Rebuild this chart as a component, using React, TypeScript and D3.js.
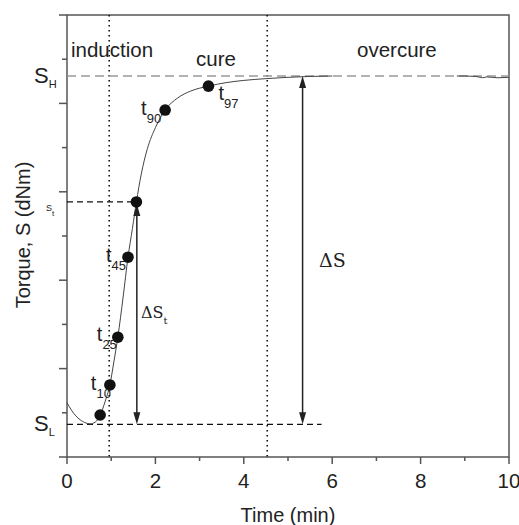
import React from "react";
import * as d3 from "d3";

// ---- data ----
const curveTime = [0, 0.1, 0.2, 0.3, 0.4, 0.52, 0.64, 0.75, 0.86, 0.97, 1.06, 1.15, 1.27, 1.38, 1.48, 1.57, 1.68, 1.82, 2.0, 2.22, 2.5, 2.8, 3.2, 3.6, 4.0, 4.5, 5.0, 5.5, 6.0];
const curveTorque = [1.23, 1.06, 0.93, 0.84, 0.78, 0.75, 0.79, 0.94, 1.25, 1.63, 2.15, 2.71, 3.62, 4.52, 5.17, 5.77, 6.4, 6.98, 7.45, 7.85, 8.12, 8.28, 8.39, 8.47, 8.52, 8.56, 8.59, 8.61, 8.62];
const tailTime = [8.82, 9.0, 9.25, 9.3, 9.4, 9.5, 9.6, 9.75, 10.0];
const tailTorque = [8.62, 8.62, 8.61, 8.6, 8.58, 8.6, 8.59, 8.58, 8.59];

const pointTime = [0.75, 0.97, 1.15, 1.38, 1.57, 2.22, 3.2];
const pointTorque = [0.95, 1.63, 2.71, 4.52, 5.77, 7.85, 8.39];
const pointLabels = ["", "10", "25", "45", "", "90", "97"];

const S_H = 8.62;
const S_L = 0.74;
const S_t = 5.77;
const tStart = 0.955; // end of induction
const tOver = 4.53; // end of cure
const tDeltaSt = 1.58;
const tDeltaS = 5.33;
const sLEnd = 5.76;

const xTicks = [0, 1, 2, 3, 4, 5, 6, 7, 8, 9, 10];
const xTickLabels = ["0", "", "2", "", "4", "", "6", "", "8", "", "10"];
const yTicks = [0, 1, 2, 3, 4, 5, 6, 7, 8, 9, 10];

const W = 519;
const H = 525;
const L = 67, R = 509, T = 15, B = 457;

const x = d3.scaleLinear().domain([0, 10]).range([L, R]);
const y = d3.scaleLinear().domain([0, 10]).range([B, T]);

const sans = "Liberation Sans, Arial, sans-serif";
const serif = "'DejaVu Serif', 'Liberation Serif', serif";

export default function App() {
  const line = d3
    .line<number>()
    .x((_, i) => x(curveTime[i]))
    .y((d) => y(d))
    .curve(d3.curveMonotoneX);
  const tailLine = d3
    .line<number>()
    .x((_, i) => x(tailTime[i]))
    .y((d) => y(d));

  const arrowHead = (cx: number, tipY: number, dir: 1 | -1) => {
    const len = 12, hw = 3.5;
    return `M${cx},${tipY} L${cx - hw},${tipY - dir * len} L${cx + hw},${tipY - dir * len} Z`;
  };

  const labelDx = [0, -19, -21, -22, 0, -24, 10];
  const labelDy = [0, 5, 4, 5, 0, 5, 14];

  return (
    <svg width={W} height={H} style={{ position: "absolute", left: 0, top: 0, background: "#fff" }}>
      {/* frame */}
      <rect x={L} y={T} width={R - L} height={B - T} fill="none" stroke="#555" strokeWidth={1.5} />

      {/* y ticks */}
      {yTicks.map((v) => (
        <line key={"yt" + v} x1={L} x2={L - (v % 2 === 0 ? 8 : 5)} y1={y(v)} y2={y(v)} stroke="#555" strokeWidth={1.5} />
      ))}
      {/* x ticks */}
      {xTicks.map((v, i) => (
        <g key={"xt" + v}>
          <line x1={x(v)} x2={x(v)} y1={B} y2={B + (v % 2 === 0 ? 7 : 4)} stroke="#555" strokeWidth={1.5} />
          {xTickLabels[i] && (
            <text x={x(v)} y={488} textAnchor="middle" style={{ fontFamily: sans }} fontSize={20.5} fill="#222">
              {xTickLabels[i]}
            </text>
          )}
        </g>
      ))}

      {/* axis titles */}
      <text x={288} y={522} textAnchor="middle" style={{ fontFamily: sans }} fontSize={20} fill="#222">
        Time (min)
      </text>
      <text
        transform={`translate(30,235) rotate(-90)`}
        textAnchor="middle"
        style={{ fontFamily: sans }}
        fontSize={20}
        fill="#222"
      >
        Torque, S (dNm)
      </text>

      {/* phase dotted lines */}
      {[tStart, tOver].map((t) => (
        <line key={"v" + t} x1={x(t)} x2={x(t)} y1={T} y2={B} stroke="#111" strokeWidth={1.6} strokeDasharray="1.6,3.4" />
      ))}

      {/* S_H gray dashed */}
      <line x1={L} x2={R} y1={y(S_H)} y2={y(S_H)} stroke="#999" strokeWidth={1.3} strokeDasharray="9,5" />
      {/* S_L dashed */}
      <line x1={L} x2={x(sLEnd)} y1={y(S_L)} y2={y(S_L)} stroke="#111" strokeWidth={1.3} strokeDasharray="6,4" />
      {/* S_t dashed */}
      <line x1={L} x2={x(tDeltaSt)} y1={y(S_t)} y2={y(S_t)} stroke="#111" strokeWidth={1.3} strokeDasharray="6,4" />

      {/* curve */}
      <path d={line(curveTorque) || ""} fill="none" stroke="#444" strokeWidth={1} />
      <path d={tailLine(tailTorque) || ""} fill="none" stroke="#444" strokeWidth={1} />

      {/* Delta S_t arrow */}
      <line x1={x(tDeltaSt)} x2={x(tDeltaSt)} y1={y(S_t) + 4} y2={y(S_L) - 10} stroke="#222" strokeWidth={1.5} />
      <path d={arrowHead(x(tDeltaSt), y(S_L), 1)} fill="#222" />
      <path d={arrowHead(x(tDeltaSt), y(S_t) + 2, -1)} fill="#222" />
      {/* Delta S arrow */}
      <line x1={x(tDeltaS)} x2={x(tDeltaS)} y1={y(S_H) + 10} y2={y(S_L) - 10} stroke="#222" strokeWidth={1.5} />
      <path d={arrowHead(x(tDeltaS), y(S_L), 1)} fill="#222" />
      <path d={arrowHead(x(tDeltaS), y(S_H), -1)} fill="#222" />

      {/* points */}
      {pointTime.map((t, i) => (
        <circle key={"p" + i} cx={x(t)} cy={y(pointTorque[i])} r={5.8} fill="#111" />
      ))}
      {pointTime.map((t, i) =>
        pointLabels[i] ? (
          <text key={"pl" + i} x={x(t) + labelDx[i]} y={y(pointTorque[i]) + labelDy[i]} style={{ fontFamily: sans }} fontSize={20} fill="#222">
            t
            <tspan fontSize={13} dy={8}>
              {pointLabels[i]}
            </tspan>
          </text>
        ) : null
      )}

      {/* phase labels */}
      <text x={71} y={57} style={{ fontFamily: sans }} fontSize={20.5} fill="#222">induction</text>
      <text x={196} y={66} style={{ fontFamily: sans }} fontSize={20.5} fill="#222">cure</text>
      <text x={357} y={57} style={{ fontFamily: sans }} fontSize={20.5} fill="#222">overcure</text>

      {/* S labels */}
      <text x={34} y={83} style={{ fontFamily: sans }} fontSize={22} fill="#222">
        S<tspan fontSize={11} dy={5}>H</tspan>
      </text>
      <text x={34} y={431} style={{ fontFamily: sans }} fontSize={22} fill="#222">
        S<tspan fontSize={11} dy={5}>L</tspan>
      </text>
      <text x={46} y={211} style={{ fontFamily: sans }} fontSize={9} fill="#222">
        S<tspan fontSize={8} dy={5}>t</tspan>
      </text>

      {/* delta labels */}
      <text x={141} y={318} style={{ fontFamily: serif }} fontSize={16} fill="#222">
        ΔS<tspan fontSize={10} dy={6}>t</tspan>
      </text>
      <text x={319} y={267} style={{ fontFamily: serif }} fontSize={19} fill="#222">
        ΔS
      </text>
    </svg>
  );
}
